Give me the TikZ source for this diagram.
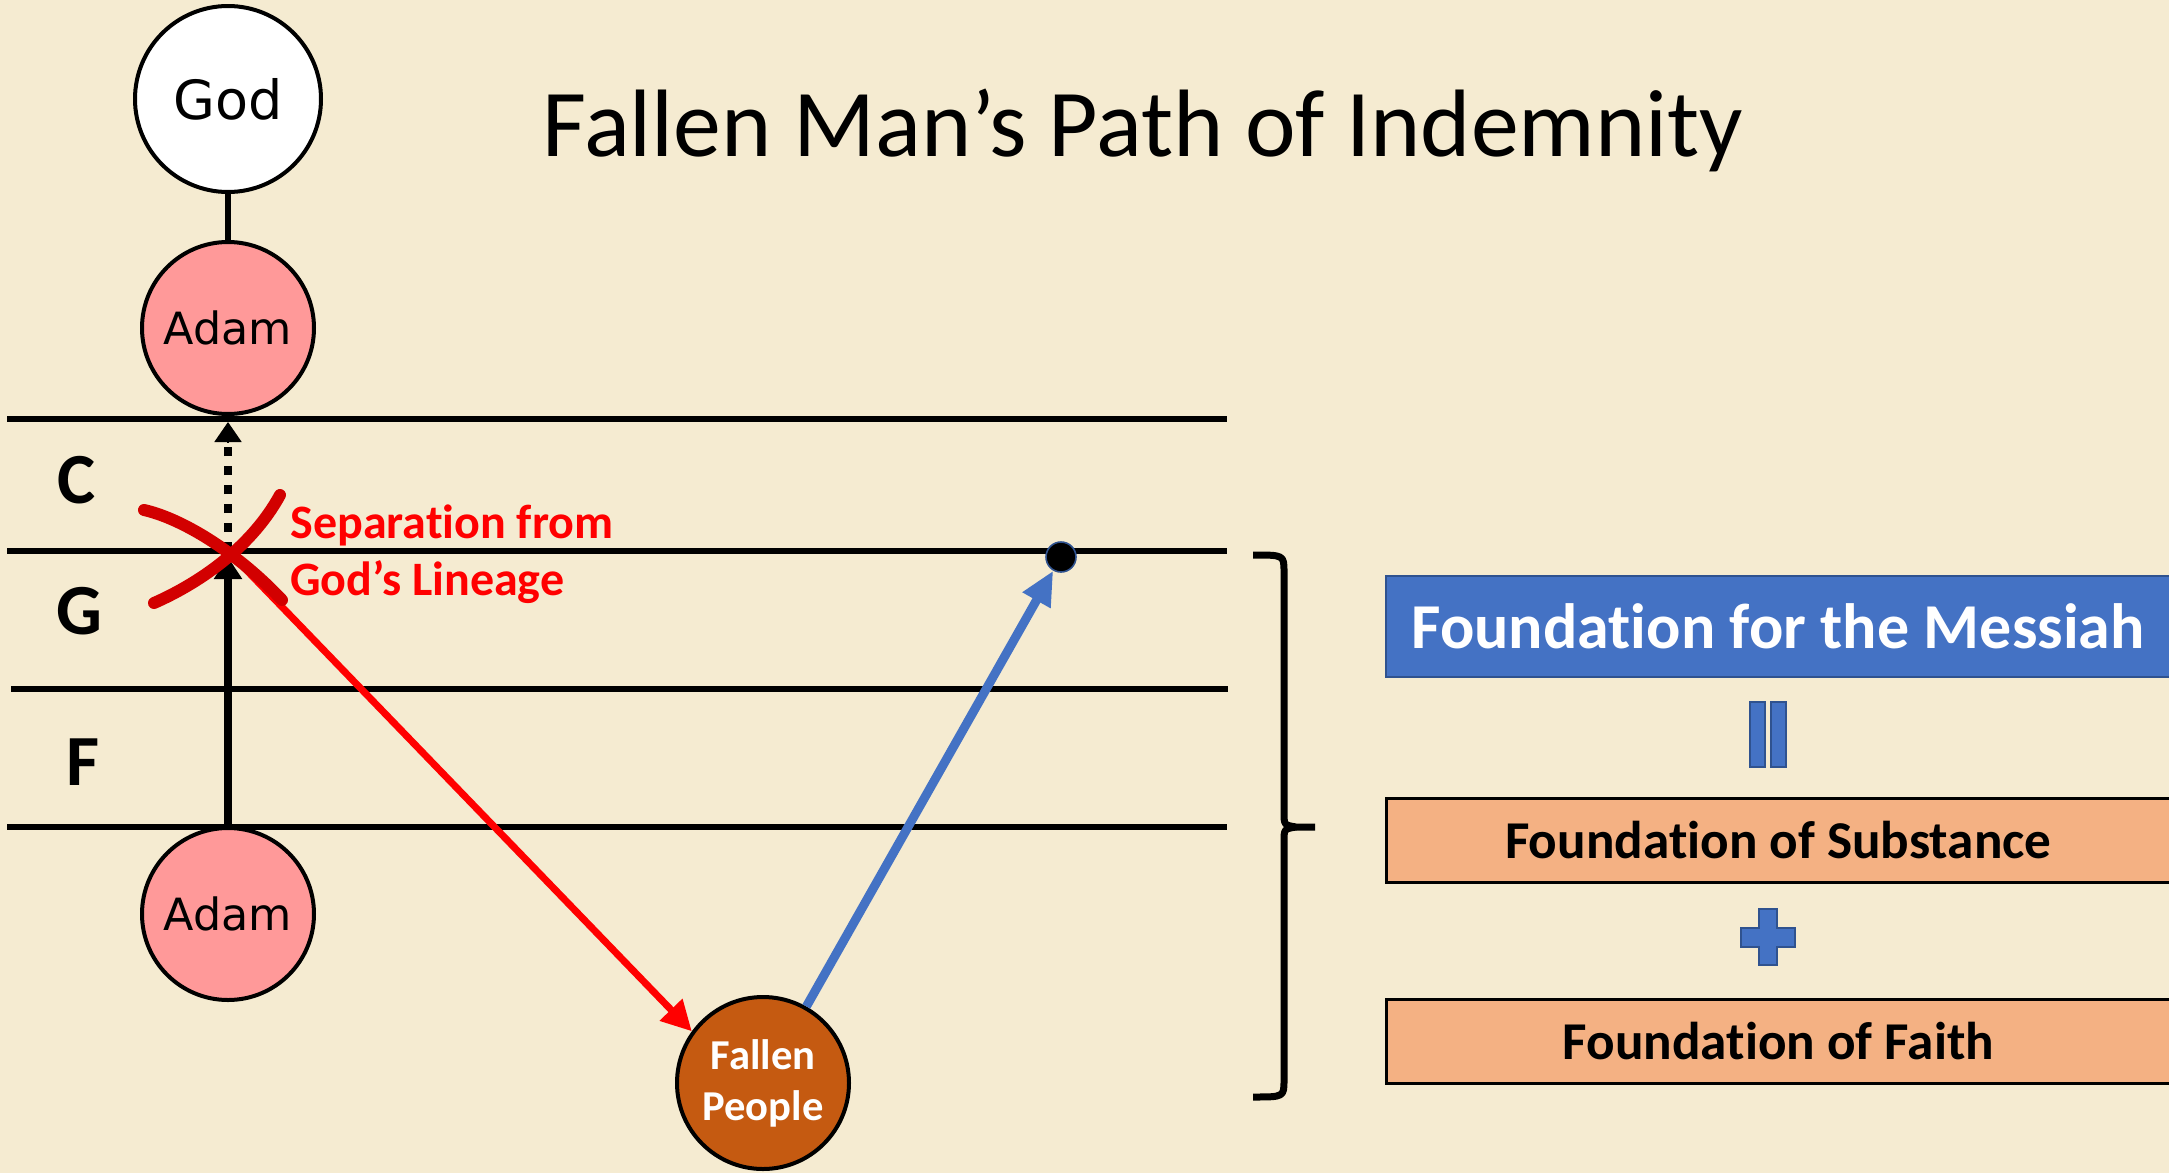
\documentclass[tikz,border=0pt]{standalone}
\usepackage{fontspec}
\setmainfont[Ligatures={NoCommon,NoContextual}]{Carlito}
\newfontfamily\dejavu{DejaVu Sans}
\usetikzlibrary{arrows.meta}
\definecolor{bg}{HTML}{F5EBD1}
\definecolor{pinkc}{HTML}{FF9999}
\definecolor{fallenc}{HTML}{C55A11}
\definecolor{bluec}{HTML}{4472C4}
\definecolor{blueline}{HTML}{2F528F}
\definecolor{orangec}{HTML}{F4B183}
\definecolor{xred}{HTML}{D20000}
\begin{document}
\begin{tikzpicture}[x=0.5pt,y=-0.5pt,
  circ/.style={circle,draw=black,line width=2pt,inner sep=0pt,minimum size=86pt},
  levelline/.style={line width=3.3pt},
  lvl/.style={font=\fontsize{36}{40}\selectfont\bfseries},
  redtxt/.style={text=red,font=\fontsize{24}{28}\selectfont\bfseries,anchor=base west,inner sep=0pt},
  boxstyle/.style={minimum width=392pt,anchor=north west,inner sep=0pt},
  blackarrow/.style={line width=3.8pt,-{Triangle[length=11pt,width=13.5pt]}},
  xstroke/.style={draw=xred,line width=6pt,line cap=round},
]
\useasboundingbox[fill=bg] (0,0) rectangle (2169,1173);

% title
\node[anchor=base,inner sep=0pt,font=\fontsize{47.9}{52}\selectfont] (title) at (1143,156) {Fallen Man’s Path of Indemnity};

% level lines
\draw[levelline] (7,419) -- (1227,419);
\draw[levelline] (7,551) -- (1227,551);
\draw[levelline] (11,689) -- (1228,689);
\draw[levelline] (7,827) -- (1227,827);

\node[lvl] (lc) at (77,480) {C};
\node[lvl] (lg) at (79,611) {G};
\node[lvl] (lf) at (83,762) {F};

% circles
\node[circ,fill=white,minimum size=93pt,font=\dejavu\fontsize{27}{32}\selectfont] (god) at (228,99) {God};
\node[circ,fill=pinkc,font=\dejavu\fontsize{22.2}{26}\selectfont] (adamtop) at (228,328) {Adam};
\node[circ,fill=pinkc,font=\dejavu\fontsize{22.2}{26}\selectfont] (adambot) at (228,914) {Adam};
\node[circ,fill=fallenc,text=white,align=center,font=\fontsize{21.3}{25.5}\selectfont\bfseries] (fp) at (763,1083) {Fallen\\People};

\coordinate (cross) at (228,551);
\coordinate (dottip) at (228,422);
\node[circle,fill=black,draw=blueline,line width=0.8pt,minimum size=15pt,inner sep=0pt] (dot) at (1061,557) {};

% connectors
\draw[line width=3pt] (god) -- (adamtop);
\draw[blackarrow] (adambot.north) -- ([yshift=-3pt]cross);
\draw[line width=4pt,dash pattern=on 4.5pt off 5pt,shorten >=9pt] (cross) -- (dottip);
\draw[line width=1pt,-{Triangle[length=10pt,width=13.5pt]}] ([yshift=-10pt]dottip) -- (dottip);
\draw[red,line width=3.5pt,-{Triangle[length=15pt,width=15pt]}] (cross) -- (fp.144);
\draw[bluec,line width=4.5pt,-{Triangle[length=17pt,width=15pt]}] (fp) -- (dot);

% red X
\draw[xstroke] (144,510) .. controls (180,518) and (235,550) .. (282,600);
\draw[xstroke] (154,603) .. controls (195,585) and (250,550) .. (280,495);

\node[redtxt] (sep1) at (290,538) {Separation from};
\node[redtxt] (sep2) at (290,595) {God’s Lineage};

% brace
\draw[line width=3.5pt,line join=round]
  (1253,555) .. controls (1284,555) .. (1284,572) -- (1284,812)
  .. controls (1284,825) .. (1296,827) -- (1315,827);
\draw[line width=3.5pt,line join=round]
  (1296,827) .. controls (1284,829) .. (1284,842) -- (1284,1080)
  .. controls (1284,1097) .. (1253,1097);

% boxes
\node[boxstyle,fill=bluec,draw=blueline,line width=1pt,minimum height=50.5pt,text=white,font=\fontsize{32}{36}\selectfont\bfseries] (messiah) at (1385,575) {Foundation for the Messiah};
\node[boxstyle,fill=orangec,draw=black,line width=1.3pt,minimum height=42pt,font=\fontsize{26.6}{30}\selectfont\bfseries] (subst) at (1385,797) {Foundation of Substance};
\node[boxstyle,fill=orangec,draw=black,line width=1.3pt,minimum height=42pt,font=\fontsize{26.6}{30}\selectfont\bfseries] (faith) at (1385,998) {Foundation of Faith};

% equal sign
\draw[fill=bluec,draw=blueline,line width=0.8pt] (1750,702) rectangle (1765,767);
\draw[fill=bluec,draw=blueline,line width=0.8pt] (1771,702) rectangle (1786,767);

% plus sign
\draw[fill=bluec,draw=blueline,line width=0.8pt]
  (1759,909) -- (1777,909) -- (1777,928) -- (1795,928) -- (1795,947) -- (1777,947)
  -- (1777,965) -- (1759,965) -- (1759,947) -- (1741,947) -- (1741,928) -- (1759,928) -- cycle;
\end{tikzpicture}
\end{document}
